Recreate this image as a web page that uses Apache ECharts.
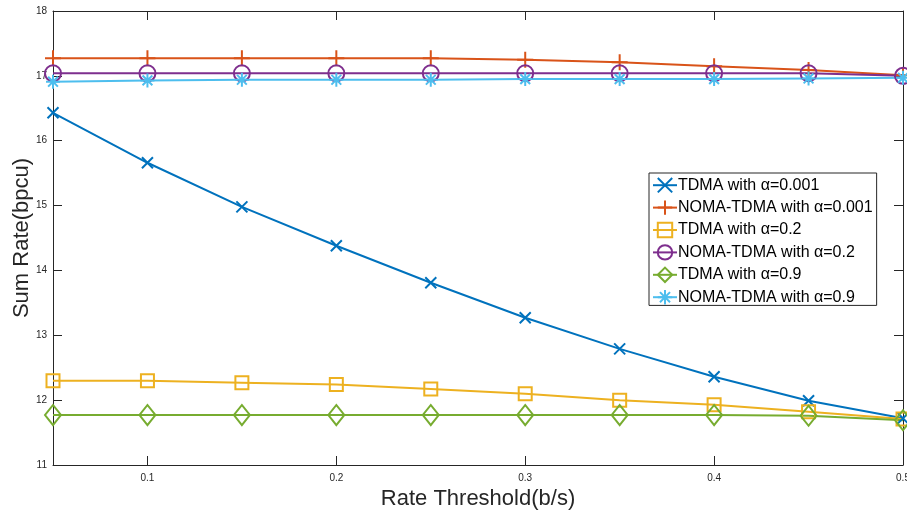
<!DOCTYPE html>
<html lang="en">
  <head>
    <meta charset="UTF-8" />
    <title>Sum Rate vs Rate Threshold</title>
    <style type="text/css">
      body {
        margin: 0;
        background-color: #fff;
      }
      #main {
        width: 907px;
        height: 515px;
      }
    </style>
  </head>
  <body>
    <div id="main"></div>
    <script src="https://cdn.jsdelivr.net/npm/echarts@6/dist/echarts.min.js"></script>
    <script type="text/javascript">
      var thresholds = [0.05, 0.1, 0.15, 0.2, 0.25, 0.3, 0.35, 0.4, 0.45, 0.5];
      var xTicks = [0.1, 0.2, 0.3, 0.4, 0.5];

      var tdma001 = [16.43, 15.66, 14.98, 14.38, 13.81, 13.27, 12.79, 12.36, 11.99, 11.72];
      var noma001 = [17.27, 17.27, 17.27, 17.27, 17.27, 17.25, 17.21, 17.15, 17.09, 17.01];
      var tdma02 = [12.30, 12.30, 12.27, 12.24, 12.17, 12.10, 12.00, 11.93, 11.82, 11.71];
      var noma02 = [17.04, 17.04, 17.04, 17.04, 17.04, 17.04, 17.04, 17.04, 17.04, 17.00];
      var tdma09 = [11.77, 11.77, 11.77, 11.77, 11.77, 11.77, 11.77, 11.77, 11.76, 11.69];
      var noma09 = [16.91, 16.93, 16.94, 16.94, 16.94, 16.95, 16.95, 16.95, 16.96, 16.97];

      var chartDom = document.getElementById("main");
      var myChart = echarts.init(chartDom, null, { renderer: "canvas" });

      var font = "'Liberation Sans', Arial, Helvetica, sans-serif";
      var axisColor = "#262626";

      function pairs(vals) {
        return thresholds.map(function (x, i) {
          return [x, vals[i]];
        });
      }

      function makeSeries(name, vals, color, symbol, size) {
        return {
          name: name,
          type: "line",
          data: pairs(vals),
          color: color,
          symbol: symbol,
          symbolSize: size,
          showAllSymbol: true,
          lineStyle: { color: color, width: 2 },
          itemStyle: {
            color: "rgba(0,0,0,0)",
            borderColor: color,
            borderWidth: 2,
          },
          emphasis: { disabled: true },
        };
      }

      var xMark = "path://M0,0L10,10M10,0L0,10";
      var plusMark = "path://M5,0L5,10M0,5L10,5";
      var starMark = "path://M5,0L5,10M0,5L10,5M1.5,1.5L8.5,8.5M8.5,1.5L1.5,8.5";

      var option = {
        animation: false,
        textStyle: { fontFamily: font },
        grid: { left: 53, right: 4, top: 11, bottom: 50, outerBoundsMode: "none", containLabel: false },
        legend: {
          orient: "vertical",
          left: 649,
          top: 173,
          padding: [4, 4, 0, 3],
          itemGap: 6,
          itemWidth: 24,
          itemHeight: 18,
          borderColor: "#262626",
          borderWidth: 1,
          backgroundColor: "#fff",
          textStyle: { fontSize: 16, color: "#000", fontFamily: font, padding: [0, 0, 0, -4] },
          data: [
            "TDMA with α=0.001",
            "NOMA-TDMA with α=0.001",
            "TDMA with α=0.2",
            "NOMA-TDMA with α=0.2",
            "TDMA with α=0.9",
            "NOMA-TDMA with α=0.9",
          ],
        },
        xAxis: [
          {
            type: "value",
            min: 0.05,
            max: 0.5,
            name: "Rate Threshold(b/s)",
            nameLocation: "middle",
            nameGap: 22,
            nameTextStyle: { fontSize: 22, color: axisColor },
            axisLine: { lineStyle: { color: axisColor, width: 1 } },
            axisTick: { inside: true, length: 9, customValues: xTicks, lineStyle: { color: axisColor } },
            axisLabel: { fontSize: 10, color: axisColor, margin: 8, customValues: xTicks },
            splitLine: { show: false },
          },
          {
            type: "value",
            position: "top",
            min: 0.05,
            max: 0.5,
            axisLine: { show: true, onZero: false, lineStyle: { color: axisColor, width: 1 } },
            axisTick: { inside: true, length: 9, customValues: xTicks, lineStyle: { color: axisColor } },
            axisLabel: { show: false },
            splitLine: { show: false },
          },
        ],
        yAxis: [
          {
            type: "value",
            min: 11,
            max: 18,
            interval: 1,
            name: "Sum Rate(bpcu)",
            nameLocation: "middle",
            nameGap: 20,
            nameMoveOverlap: false,
            nameTextStyle: { fontSize: 22, color: axisColor },
            axisLine: { show: true, lineStyle: { color: axisColor, width: 1 } },
            axisTick: { show: true, inside: true, length: 9, lineStyle: { color: axisColor } },
            axisLabel: { fontSize: 10, color: axisColor, margin: 6 },
            splitLine: { show: false },
          },
          {
            type: "value",
            position: "right",
            min: 11,
            max: 18,
            interval: 1,
            axisLine: { show: true, onZero: false, lineStyle: { color: axisColor, width: 1 } },
            axisTick: { show: true, inside: true, length: 9, lineStyle: { color: axisColor } },
            axisLabel: { show: false },
            splitLine: { show: false },
          },
        ],
        series: [
          makeSeries("TDMA with α=0.001", tdma001, "#0072BD", xMark, 11),
          makeSeries("NOMA-TDMA with α=0.001", noma001, "#D95319", plusMark, 16),
          makeSeries("TDMA with α=0.2", tdma02, "#EDB120", "rect", 13),
          makeSeries("NOMA-TDMA with α=0.2", noma02, "#7E2F8E", "circle", 16),
          makeSeries("TDMA with α=0.9", tdma09, "#77AC30", "diamond", [16, 20]),
          makeSeries("NOMA-TDMA with α=0.9", noma09, "#4DBEEE", starMark, 14),
        ],
      };

      myChart.setOption(option);
    </script>
  </body>
</html>
